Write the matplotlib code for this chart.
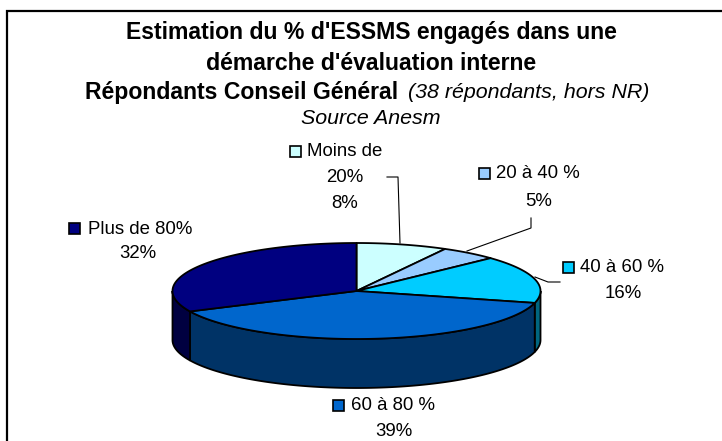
### 3D looking pie, ESSMS evaluation estimate

import numpy as np
import matplotlib
matplotlib.use("Agg")
import matplotlib.pyplot as plt
from matplotlib.patches import Polygon, Rectangle

plt.rcParams['font.family'] = ['Liberation Sans', 'DejaVu Sans']

categories = ["Moins de\n20%", "20 à 40 %", "40 à 60 %", "60 à 80 %", "Plus de 80%"]
values = [8, 5, 16, 39, 32]
top_colors = ["#CCFFFF", "#99CCFF", "#00CCFF", "#0066CC", "#000080"]
side_colors = ["#669999", "#4D6680", "#006680", "#003366", "#000040"]

cx, cy = 356.5, 291
rx, ry = 184, 48
depth = 49


def ellipse_pts(a0, a1, dy=0.0):
    # angles in degrees, clockwise from top
    a = np.radians(np.linspace(a0, a1, max(int(abs(a1 - a0)) * 2, 2)))
    return np.column_stack([cx + rx * np.sin(a), cy + dy - ry * np.cos(a)])


fig = plt.figure(figsize=(7.22, 4.41), dpi=100)
ax = fig.add_axes([0, 0, 1, 1])
ax.set_xlim(0, 722)
ax.set_ylim(441, 0)
ax.axis("off")

# frame only shows left and top
ax.plot([7, 7, 722], [441, 11, 11], color="black", lw=1.6, solid_joinstyle="miter")

edges = np.cumsum([0] + values) * 3.6

# side walls first
for i in range(len(values)):
    a0 = max(edges[i], 90)
    a1 = min(edges[i + 1], 270)
    if a1 <= a0:
        continue
    top = ellipse_pts(a0, a1)
    bottom = ellipse_pts(a0, a1, depth)[::-1]
    ax.add_patch(Polygon(np.vstack([top, bottom]), closed=True, facecolor=side_colors[i],
                         edgecolor="black", lw=1.3, zorder=2))

# top face
for i in range(len(values)):
    arc = ellipse_pts(edges[i], edges[i + 1])
    ax.add_patch(Polygon(np.vstack([[cx, cy], arc]), closed=True, facecolor=top_colors[i],
                         edgecolor="black", lw=1.3, joinstyle="round", zorder=3))

# leader lines
ax.plot([387, 398, 400], [177, 177, 243], color="black", lw=0.8, zorder=1)
ax.plot([467, 531, 531], [251, 228, 218], color="black", lw=0.8, zorder=4)
ax.plot([535, 548, 560], [277, 282, 282], color="black", lw=0.8, zorder=4)

# title block
title_size = 16.6
italic_size = 15.4
ax.text(371, 32, "Estimation du % d'ESSMS engagés dans une", ha="center", va="center",
        fontsize=title_size, fontweight="bold")
ax.text(371, 63, "démarche d'évaluation interne", ha="center", va="center",
        fontsize=title_size, fontweight="bold")
ax.text(85, 93, "Répondants Conseil Général", ha="left", va="center",
        fontsize=title_size, fontweight="bold")
ax.text(408, 92, "(38 répondants, hors NR)", ha="left", va="center",
        fontsize=italic_size, fontstyle="italic")
ax.text(371, 119, "Source Anesm", ha="center", va="center", fontsize=italic_size, fontstyle="italic")

# data labels: (key x, key y, text x, text y) for each slice
label_pos = [(295, 151, 307, 152), (484, 173, 496, 174), (568, 267, 580, 267),
             (338.5, 405, 351, 406), (74, 228, 88, 230)]
pct_pos = [(345, 204), (539, 201), (623, 293), (394, 432), (138, 254)]

size = 13.4
for i in range(len(values)):
    kx, ky, tx, ty = label_pos[i]
    ax.add_patch(Rectangle((kx - 5.5, ky - 5.5), 11, 11, facecolor=top_colors[i],
                           edgecolor="black", lw=1.2, zorder=5))
    parts = categories[i].split("\n")
    ax.text(tx, ty, parts[0], ha="left", va="center", fontsize=size, zorder=5)
    if len(parts) > 1:
        ax.text(345, 178, parts[1], ha="center", va="center", fontsize=size, zorder=5)
    ax.text(pct_pos[i][0], pct_pos[i][1], "%d%%" % values[i], ha="center", va="center",
            fontsize=size, zorder=5)

fig.savefig("out.png", dpi=100, facecolor="white")
